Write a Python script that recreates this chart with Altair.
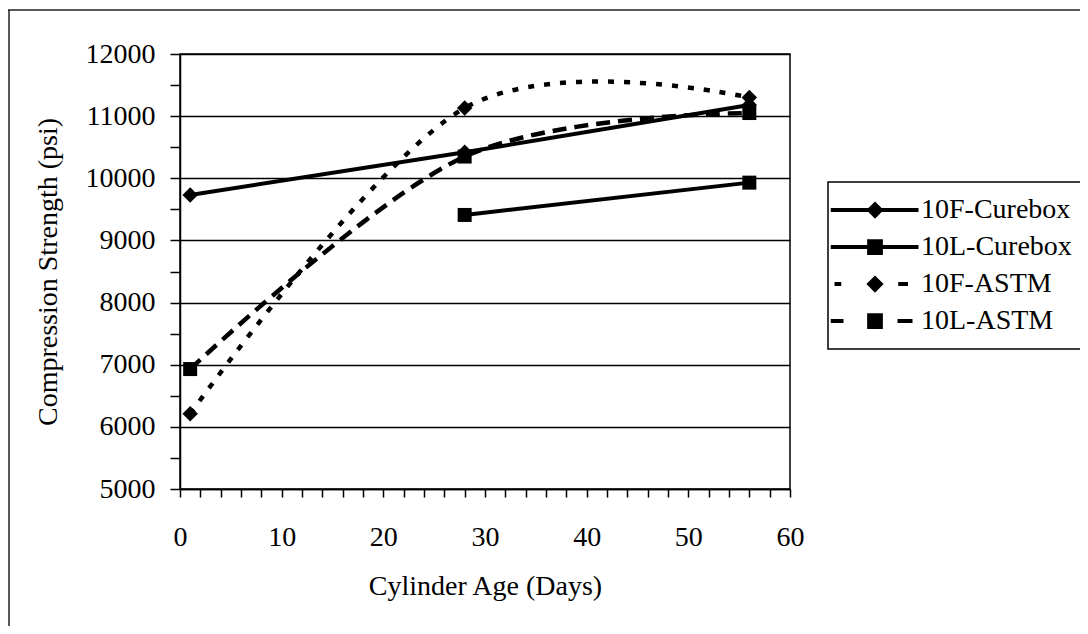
import altair as alt
import pandas as pd

SERIES = ["10F-Curebox", "10L-Curebox", "10F-ASTM", "10L-ASTM"]

DAYS_10F_CUREBOX = [1, 28, 56]
PSI_10F_CUREBOX = [9730, 10420, 11180]
DAYS_10L_CUREBOX = [28, 56]
PSI_10L_CUREBOX = [9410, 9930]
DAYS_10F_ASTM = [1, 28, 56]
PSI_10F_ASTM = [6210, 11130, 11300]
DAYS_10L_ASTM = [1, 28, 56]
PSI_10L_ASTM = [6930, 10350, 11050]

X_TICKS = list(range(0, 61, 2))
Y_TICKS = list(range(5000, 12001, 500))

rows = []
for name, days, psi in [
    ("10F-Curebox", DAYS_10F_CUREBOX, PSI_10F_CUREBOX),
    ("10L-Curebox", DAYS_10L_CUREBOX, PSI_10L_CUREBOX),
    ("10F-ASTM", DAYS_10F_ASTM, PSI_10F_ASTM),
    ("10L-ASTM", DAYS_10L_ASTM, PSI_10L_ASTM),
]:
    for d, p in zip(days, psi):
        rows.append({"series": name, "days": d, "psi": p})
df = pd.DataFrame(rows)

FONT = "Liberation Serif"

# legend glyphs (unit = 7.5 px): filled line bar + marker
DIAMOND = "M0,-1.15L1.15,0L0,1.15L-1.15,0Z"
SQUARE = "M-1.05,-1.05H1.05V1.05H-1.05Z"


def bar(a, b):
    return f"M{a},-0.27H{b}V0.27H{a}Z"


LEGEND_PATHS = [
    bar(-5.9, 5.8) + DIAMOND,
    bar(-5.9, 5.8) + SQUARE,
    bar(-5.4, -4.5) + bar(3.1, 4.4) + DIAMOND,
    bar(-5.9, -4.2) + bar(3.0, 5.0) + SQUARE,
]

x_enc = alt.X(
    "days:Q",
    scale=alt.Scale(domain=[0, 60], nice=False, zero=False),
    axis=alt.Axis(
        values=X_TICKS, tickCount=len(X_TICKS),
        labelExpr="datum.value % 10 == 0 ? datum.label : ''",
        tickSize=8, tickWidth=1.5, tickColor="black",
        domainColor="black", domainWidth=1.5,
        labelFont=FONT, labelFontSize=28, labelColor="black",
        labelPadding=26, labelOverlap=False, labelFlush=False,
        grid=False,
        title="Cylinder Age (Days)", titleFont=FONT, titleFontSize=28,
        titleFontWeight="normal", titleColor="black",
        titleBaseline="middle", titleY=97,
    ),
)
y_enc = alt.Y(
    "psi:Q",
    scale=alt.Scale(domain=[5000, 12000], nice=False, zero=False),
    axis=alt.Axis(
        values=Y_TICKS, tickCount=len(Y_TICKS), format="d",
        labelExpr="datum.value % 1000 == 0 ? datum.label : ''",
        tickSize=10, tickWidth=1.5, tickColor="black",
        domainColor="black", domainWidth=1.5,
        labelFont=FONT, labelFontSize=28, labelColor="black",
        labelPadding=15, labelOverlap=False, labelFlush=False,
        grid=True, gridColor="black", gridWidth=1.5,
        gridOpacity={"condition": {"test": "datum.value % 1000 == 0", "value": 1}, "value": 0},
        title="Compression Strength (psi)", titleFont=FONT, titleFontSize=28,
        titleFontWeight="normal", titleColor="black",
        titleAngle=270, titleAlign="center", titleBaseline="middle",
        titleX=-132, titleY=217.5,
    ),
)

base = alt.Chart(df).encode(x=x_enc, y=y_enc)

solid = base.transform_filter(
    alt.FieldOneOfPredicate(field="series", oneOf=["10F-Curebox", "10L-Curebox"])
).mark_line(color="black", strokeWidth=4).encode(detail="series:N")

dash_f = base.transform_filter(
    alt.FieldEqualPredicate(field="series", equal="10F-ASTM")
).mark_line(color="black", strokeWidth=4.5, interpolate="cardinal", tension=0,
            strokeDash=[6, 10])

dash_l = base.transform_filter(
    alt.FieldEqualPredicate(field="series", equal="10L-ASTM")
).mark_line(color="black", strokeWidth=4.5, interpolate="cardinal", tension=0,
            strokeDash=[14, 8])

diamonds = base.transform_filter(
    alt.FieldOneOfPredicate(field="series", oneOf=["10F-Curebox", "10F-ASTM"])
).mark_point(shape="diamond", filled=True, color="black", size=240, opacity=1)

squares = base.transform_filter(
    alt.FieldOneOfPredicate(field="series", oneOf=["10L-Curebox", "10L-ASTM"])
).mark_point(shape="square", filled=True, color="black", size=196, opacity=1)

legend_layer = alt.Chart(df).transform_filter("false").mark_point(
    filled=True, color="black", opacity=1
).encode(
    shape=alt.Shape(
        "series:N",
        scale=alt.Scale(domain=SERIES, range=LEGEND_PATHS),
        legend=alt.Legend(
            title=None, orient="none", legendX=648, legendY=128,
            padding=14, rowPadding=9, symbolSize=225, symbolStrokeWidth=0,
            symbolOffset=19, labelOffset=32,
            symbolFillColor="black",
            labelFont=FONT, labelFontSize=28, labelColor="black", labelLimit=0,
            strokeColor="black", fillColor="white", cornerRadius=0,
        ),
    ),
)

frame_data = alt.Data(values=[{"k": 0}])
frame_left = alt.Chart(frame_data).mark_rule(color="#222", strokeWidth=1.5).encode(
    x=alt.value(-171), y=alt.value(-44), y2=alt.value(580)
)
frame_top = alt.Chart(frame_data).mark_rule(color="#222", strokeWidth=1.5).encode(
    x=alt.value(-172), x2=alt.value(900), y=alt.value(-44)
)

chart = alt.layer(
    frame_left, frame_top, solid, dash_f, dash_l, diamonds, squares, legend_layer
).properties(
    width=610, height=435,
    autosize=alt.AutoSizeParams(type="none"),
    padding={"left": 172, "top": 46, "right": 290, "bottom": 137},
    background="white",
).configure_view(
    stroke="black", strokeWidth=1.5
).configure_legend(
    strokeWidth=1.5
)

chart.save("out.html", embed_options={"renderer": "svg", "actions": False})
